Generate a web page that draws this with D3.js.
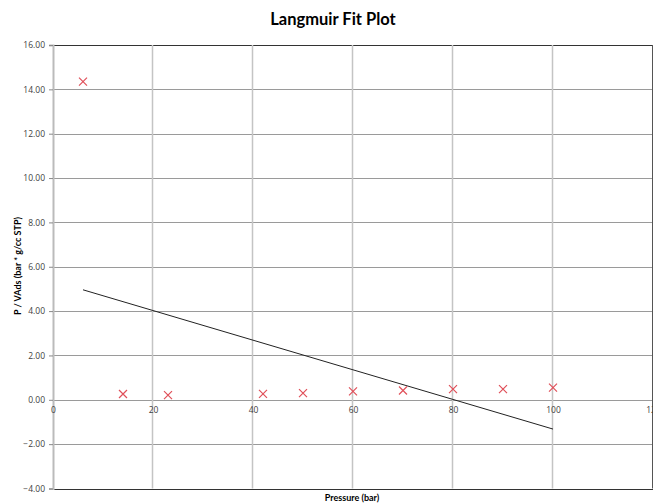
<!DOCTYPE html>
<html><head><meta charset="utf-8">
<script src="https://cdn.jsdelivr.net/npm/d3@7"></script>
<style>body{margin:0;background:#fff;}svg{display:block;}</style>
</head><body>
<script>
const pressure = [6, 14, 23, 42, 50, 60, 70, 80, 90, 100];
const pOverV = [14.35, 0.26, 0.21, 0.27, 0.30, 0.38, 0.42, 0.48, 0.48, 0.55];
const fitX = [6, 100];
const fitY = [4.96, -1.32];
const xTicks = [0, 20, 40, 60, 80, 100, 120];
const yTicks = [-4, -2, 0, 2, 4, 6, 8, 10, 12, 14, 16];

const W = 653, H = 503;
const svg = d3.select("body").append("svg").attr("width", W).attr("height", H);
const x = d3.scaleLinear().domain([0, 120]).range([53, 653]);
const y = d3.scaleLinear().domain([-4, 16]).range([488.5, 45]);
const font = "Open Sans, Liberation Sans, sans-serif";
const tfont = "Lato, Open Sans, sans-serif";

// title
svg.append("text").attr("x", 333).attr("y", 25).attr("text-anchor", "middle")
  .attr("font-family", tfont).attr("font-weight", "bold").attr("font-size", 16.5)
  .attr("fill", "#000").text("Langmuir Fit Plot");

// horizontal gridlines
svg.append("g").selectAll("line").data(yTicks).join("line")
  .attr("x1", x(0)).attr("x2", x(120))
  .attr("y1", d => Math.round(y(d)) + 0.5).attr("y2", d => Math.round(y(d)) + 0.5)
  .attr("stroke", d => (d === 16 || d === -4) ? "#333" : "#9a9a9a").attr("stroke-width", 1);

// vertical gridlines
svg.append("g").selectAll("line").data(xTicks.filter(d => d > 0)).join("line")
  .attr("x1", d => Math.round(x(d)) - 0.5).attr("x2", d => Math.round(x(d)) - 0.5)
  .attr("y1", y(16)).attr("y2", y(-4))
  .attr("stroke", d => d === 120 ? "#555" : "#c4c4c4").attr("stroke-width", d => d === 120 ? 1 : 1.5);

// left axis
const yAxis = d3.axisLeft(y).tickValues(yTicks).tickFormat(d3.format(".2f")).tickSize(4).tickPadding(4);
const gy = svg.append("g").attr("transform", `translate(${x(0)},0)`).call(yAxis);
gy.select(".domain").attr("stroke", "#bbb").attr("stroke-width", 2);
gy.selectAll(".tick line").attr("stroke", "#888");
gy.selectAll("text").attr("font-family", font).attr("font-size", 8.5).attr("fill", "#404040");

// x tick labels along y=0
const xAxis = d3.axisBottom(x).tickValues(xTicks).tickFormat(d3.format("d")).tickSize(0).tickPadding(7);
const gx = svg.append("g").attr("transform", `translate(0,${y(0)})`).call(xAxis);
gx.select(".domain").remove();
gx.selectAll("text").attr("font-family", font).attr("font-size", 8.5).attr("fill", "#404040");

// fit line
svg.append("path").datum(fitX.map((d, i) => [d, fitY[i]]))
  .attr("d", d3.line().x(d => x(d[0])).y(d => y(d[1])))
  .attr("fill", "none").attr("stroke", "#222").attr("stroke-width", 1);

// markers
const s = 4;
const pts = svg.append("g").selectAll("g").data(pressure.map((d, i) => [d, pOverV[i]])).join("g")
  .attr("transform", d => `translate(${x(d[0])},${y(d[1])})`);
pts.append("path").attr("d", `M${-s},${-s}L${s},${s}M${-s},${s}L${s},${-s}`)
  .attr("stroke", "#e0505a").attr("stroke-width", 1.2).attr("fill", "none");

// axis titles
svg.append("text").attr("x", 352).attr("y", 501).attr("text-anchor", "middle")
  .attr("font-family", tfont).attr("font-weight", "bold").attr("font-size", 9)
  .attr("fill", "#000").text("Pressure (bar)");
svg.append("text").attr("transform", "translate(21,266) rotate(-90)").attr("text-anchor", "middle")
  .attr("font-family", tfont).attr("font-weight", "bold").attr("font-size", 9)
  .attr("fill", "#000").text("P / VAds (bar * g/cc  STP)");
</script>
</body></html>
